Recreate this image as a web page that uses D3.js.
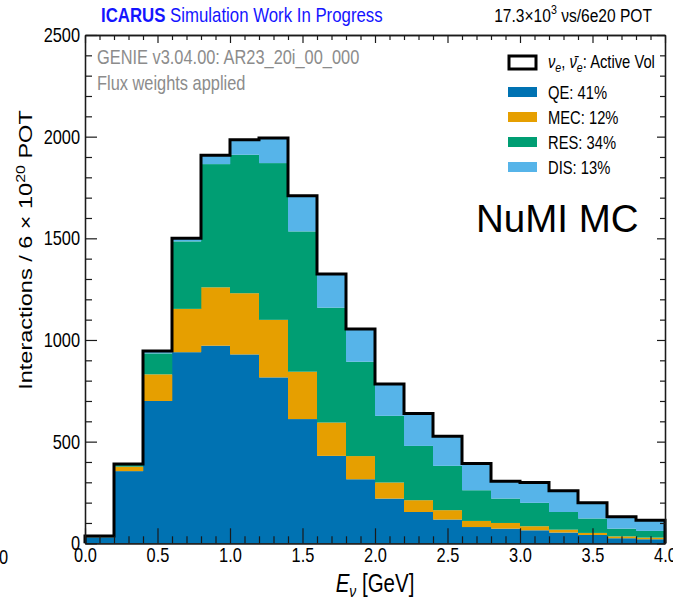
<!DOCTYPE html>
<html>
<head>
<meta charset="utf-8">
<script src="https://cdn.jsdelivr.net/npm/d3@7"></script>
<style>
  html, body { margin: 0; padding: 0; background: #fff; }
  svg { display: block; }
  text { font-family: "Liberation Sans", Arial, Helvetica, sans-serif; }
</style>
</head>
<body>
<svg id="chart" width="673" height="606"></svg>
<script>
// Neutrino energy bin edges [GeV]
const binEdges = [0.0, 0.2, 0.4, 0.6, 0.8, 1.0, 1.2, 1.4, 1.6, 1.8, 2.0,
                  2.2, 2.4, 2.6, 2.8, 3.0, 3.2, 3.4, 3.6, 3.8, 4.0];

// Interactions per bin, split by interaction mode (stacked bottom to top)
const qeCounts  = [30, 355, 700, 940, 972, 929, 816, 611, 430, 315, 220, 154, 117, 80, 72, 64, 53, 41, 25, 20];
const mecCounts = [1, 22, 131, 213, 287, 301, 283, 233, 164, 114, 79, 58, 46, 30, 28, 20, 14, 10, 9, 8];
const resCounts = [3, 8, 103, 332, 606, 681, 771, 690, 565, 464, 328, 267, 218, 151, 120, 115, 87, 71, 38, 33];
const disCounts = [2, 5, 12, 15, 43, 74, 123, 175, 165, 161, 156, 160, 146, 132, 85, 100, 104, 77, 58, 52];

const modeNames  = ["QE", "MEC", "RES", "DIS"];
const modeLabels = ["QE: 41%", "MEC: 12%", "RES: 34%", "DIS: 13%"];
const modeColors = ["#0072B2", "#E69F00", "#009E73", "#56B4E9"];

const xMajorTicks = [0.0, 0.5, 1.0, 1.5, 2.0, 2.5, 3.0, 3.5, 4.0];
const xMinorTicks = [0.1, 0.2, 0.3, 0.4, 0.6, 0.7, 0.8, 0.9, 1.1, 1.2, 1.3, 1.4, 1.6, 1.7, 1.8, 1.9,
                     2.1, 2.2, 2.3, 2.4, 2.6, 2.7, 2.8, 2.9, 3.1, 3.2, 3.3, 3.4, 3.6, 3.7, 3.8, 3.9];
const yMajorTicks = [0, 500, 1000, 1500, 2000, 2500];
const yMinorTicks = [100, 200, 300, 400, 600, 700, 800, 900, 1100, 1200, 1300, 1400,
                     1600, 1700, 1800, 1900, 2100, 2200, 2300, 2400];

const svg = d3.select("#chart");
const frame = { left: 85, right: 665, top: 35, bottom: 543.3 };
const SQUEEZE = 0.82;   // horizontal condensation of the Helvetica-style lettering

const x = d3.scaleLinear().domain([0, 4]).range([frame.left, frame.right]);
const y = d3.scaleLinear().domain([0, 2500]).range([frame.bottom, frame.top]);

// Text placed at (px, py), condensed horizontally
function condensedText(px, py, size, opts = {}) {
  const g = svg.append("g").attr("transform", `translate(${px},${py}) scale(${SQUEEZE},1)`);
  return g.append("text").attr("x", 0).attr("y", 0).attr("font-size", size)
    .attr("fill", opts.fill || "#000").attr("text-anchor", opts.anchor || "start");
}

// Stack the modes
const rows = binEdges.slice(0, -1).map((lo, i) => ({
  lo, hi: binEdges[i + 1],
  QE: qeCounts[i], MEC: mecCounts[i], RES: resCounts[i], DIS: disCounts[i]
}));
const stacked = d3.stack().keys(modeNames)(rows);

const bars = svg.append("g");
stacked.forEach((layer, k) => {
  bars.selectAll(null).data(layer).join("rect")
    .attr("x", d => x(d.data.lo))
    .attr("width", d => x(d.data.hi) - x(d.data.lo) + 0.3)
    .attr("y", d => y(d[1]))
    .attr("height", d => y(d[0]) - y(d[1]))
    .attr("fill", modeColors[k]);
});

// Total outline as a step histogram
const totals = rows.map(r => r.QE + r.MEC + r.RES + r.DIS);
const stepPts = [[binEdges[0], 0]];
rows.forEach((r, i) => { stepPts.push([r.lo, totals[i]]); stepPts.push([r.hi, totals[i]]); });
stepPts.push([binEdges[binEdges.length - 1], 0]);
svg.append("path")
  .attr("d", d3.line().x(d => x(d[0])).y(d => y(d[1]))(stepPts))
  .attr("fill", "none").attr("stroke", "#000").attr("stroke-width", 3)
  .attr("stroke-linejoin", "miter");

// Axes with inward ticks on all four sides
function styleAxis(g) {
  g.selectAll(".domain").attr("stroke", "#1a1a1a").attr("stroke-width", 1.3);
  g.selectAll(".tick line").attr("stroke", "#1a1a1a").attr("stroke-width", 1.2);
  g.selectAll("text").attr("font-family", null)
    .attr("font-size", 20).attr("fill", "#000")
    .attr("transform", `scale(${SQUEEZE},1)`);
}
const noLabel = () => "";

svg.append("g").attr("transform", `translate(0,${frame.bottom})`)
  .call(d3.axisBottom(x).tickValues(xMinorTicks).tickSize(-7).tickSizeOuter(0).tickFormat(noLabel))
  .call(styleAxis);
svg.append("g").attr("transform", `translate(0,${frame.bottom})`)
  .call(d3.axisBottom(x).tickValues(xMajorTicks).tickSize(-15).tickSizeOuter(0).tickPadding(4)
        .tickFormat(d3.format(".1f")))
  .call(styleAxis);
svg.append("g").attr("transform", `translate(0,${frame.top})`)
  .call(d3.axisTop(x).tickValues(xMinorTicks).tickSize(-5).tickSizeOuter(0).tickFormat(noLabel))
  .call(styleAxis);
svg.append("g").attr("transform", `translate(0,${frame.top})`)
  .call(d3.axisTop(x).tickValues(xMajorTicks).tickSize(-8).tickSizeOuter(0).tickFormat(noLabel))
  .call(styleAxis);

svg.append("g").attr("transform", `translate(${frame.left},0)`)
  .call(d3.axisLeft(y).tickValues(yMinorTicks).tickSize(-7).tickSizeOuter(0).tickFormat(noLabel))
  .call(styleAxis);
svg.append("g").attr("transform", `translate(${frame.left},0)`)
  .call(d3.axisLeft(y).tickValues(yMajorTicks).tickSize(-12).tickSizeOuter(0).tickPadding(6)
        .tickFormat(d3.format("d")))
  .call(styleAxis);
svg.append("g").attr("transform", `translate(${frame.right},0)`)
  .call(d3.axisRight(y).tickValues(yMinorTicks).tickSize(-5).tickSizeOuter(0).tickFormat(noLabel))
  .call(styleAxis);
svg.append("g").attr("transform", `translate(${frame.right},0)`)
  .call(d3.axisRight(y).tickValues(yMajorTicks).tickSize(-8).tickSizeOuter(0).tickFormat(noLabel))
  .call(styleAxis);

// Axis titles
const xTitle = condensedText(375, 592, 25, { anchor: "middle" });
xTitle.append("tspan").attr("font-style", "italic").text("E");
xTitle.append("tspan").attr("font-style", "italic").attr("font-size", 17).attr("dy", 5).text("ν");
xTitle.append("tspan").attr("dy", -5).text(" [GeV]");

const yTitle = svg.append("g")
  .attr("transform", `translate(32,250) scale(${SQUEEZE},1) rotate(-90)`)
  .append("text").attr("font-size", 23.5).attr("text-anchor", "middle").attr("fill", "#000");
yTitle.append("tspan").text("Interactions / 6 × 10");
yTitle.append("tspan").attr("font-size", 16).attr("dy", -9).text("20");
yTitle.append("tspan").attr("dy", 9).text(" POT");

// Header
const head = condensedText(101, 22, 20.5, { fill: "#1414ff" });
head.append("tspan").attr("font-weight", "bold").text("ICARUS");
head.append("tspan").text(" Simulation Work In Progress");

const pot = condensedText(652, 22, 19, { anchor: "end" });
pot.append("tspan").text("17.3×10");
pot.append("tspan").attr("font-size", 13).attr("dy", -8).text("3");
pot.append("tspan").attr("dy", 8).text(" νs/6e20 POT");

// Generator notes
condensedText(97, 64, 20, { fill: "#8c8c8c" }).text("GENIE v3.04.00: AR23_20i_00_000");
condensedText(97, 90, 20, { fill: "#8c8c8c" }).text("Flux weights applied");

// Legend
svg.append("rect").attr("x", 509).attr("y", 56).attr("width", 27).attr("height", 13)
  .attr("fill", "#fff").attr("stroke", "#000").attr("stroke-width", 3);
const lg0 = condensedText(548, 68, 18);
lg0.append("tspan").attr("font-style", "italic").text("ν");
lg0.append("tspan").attr("font-style", "italic").attr("font-size", 13).attr("dy", 4).text("e");
lg0.append("tspan").attr("dy", -4).text(", ");
lg0.append("tspan").attr("font-style", "italic").text("ν̄");
lg0.append("tspan").attr("font-style", "italic").attr("font-size", 13).attr("dy", 4).text("e");
lg0.append("tspan").attr("dy", -4).text(": Active Vol");

modeLabels.forEach((lab, k) => {
  const cy = 92 + k * 25;
  svg.append("rect").attr("x", 508).attr("y", cy - 5).attr("width", 29).attr("height", 10)
    .attr("fill", modeColors[k]);
  condensedText(548, cy + 6.5, 18).text(lab);
});

// Sample tag
svg.append("text").attr("x", 476).attr("y", 232)
  .attr("font-family", "'Comic Sans MS', 'Comic Neue', Lato, sans-serif")
  .attr("font-size", 38.5).attr("fill", "#000").text("NuMI MC");

// Edge of the neighbouring panel's axis label
condensedText(-1, 564, 20).text("0");
</script>
</body>
</html>
